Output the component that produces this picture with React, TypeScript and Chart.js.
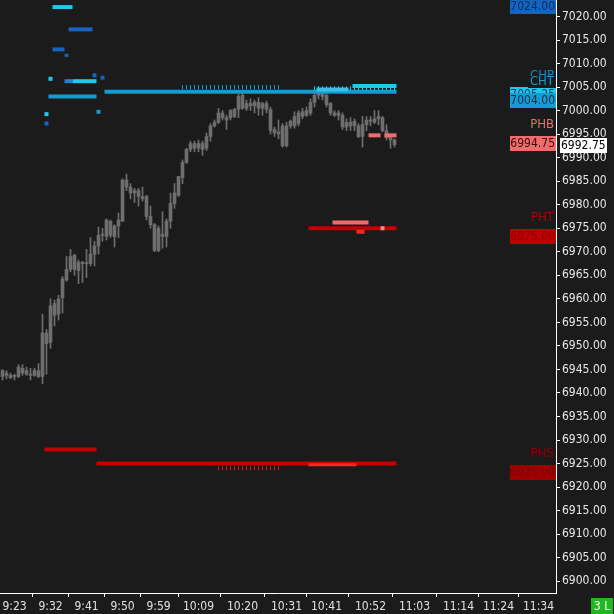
import React, { useEffect, useRef } from 'react';
import { Chart, registerables } from 'chart.js';

Chart.register(...registerables);

const FONT = "'DejaVu Sans Condensed', 'DejaVu Sans', sans-serif";
const BG = '#1b1b1b';

// 1-minute bars, first bar at 9:20 (minutes counted from 9:00)
const firstBarMinute = 20;
const opens = [
  6944.75, 6943.75, 6943.75, 6943.5, 6943.5, 6945.25, 6944.75, 6944, 6943.75, 6944.75,
  6943.5, 6952.75, 6950.75, 6959, 6956.75, 6960.25, 6964, 6966.25, 6969.25, 6966,
  6967.75, 6967.5, 6967.5, 6969.5, 6971.25, 6973.5, 6973.25, 6976.5, 6973.25, 6975.5,
  6976.5, 6985.25, 6983.75, 6982.5, 6983, 6981.75, 6981.75, 6977.5, 6975.75, 6970.25,
  6973.75, 6973.25, 6976.5, 6980.25, 6982, 6985.75, 6989, 6991.75, 6993, 6992,
  6993, 6992, 6994.5, 6996.75, 6997.5, 6999.5, 6998.5, 6998.5, 6998.75, 7000.25,
  7003.25, 7000.5, 7001.5, 7001, 7001.75, 7000.5, 7001.5, 7000.25, 6996, 6995.5,
  6996.75, 6992.5, 6996.75, 6996.75, 6997.25, 6998.75, 6999, 6999.5, 7001.75, 7003.25,
  7003.75, 7003.25, 7001.5, 6999.5, 6999, 6999, 6996.5, 6997.5, 6996.75, 6996.75,
  6994.5, 6997, 6998, 6997.5, 6998.25, 6998.5, 6995.75, 6994.25, 6993.75,
];
const highs = [
  6945, 6944.75, 6944.25, 6944, 6946, 6946, 6945.5, 6945.25, 6945.25, 6946.25,
  6956.75, 6953.5, 6960, 6959.75, 6960.75, 6964.75, 6969, 6970.5, 6969.5, 6968.25,
  6968, 6970.5, 6973, 6972.25, 6975.25, 6975, 6977, 6976.75, 6975.75, 6978.25,
  6985.5, 6986.5, 6984.5, 6983.5, 6983.5, 6983.75, 6982, 6979.75, 6976, 6975.5,
  6978.5, 6977, 6982.5, 6984.5, 6986, 6989.5, 6992, 6993.5, 6993.5, 6993.75,
  6993.5, 6995.25, 6997.25, 6998, 7000.5, 7000, 6999, 7000.25, 7000.5, 7003.5,
  7003.75, 7002.25, 7002.5, 7002.25, 7002.75, 7001.75, 7002, 7000.75, 6996.5, 6998,
  6997.25, 6997.5, 6998, 6999.75, 7000, 7000.5, 7000.75, 7002.5, 7004.25, 7005,
  7004.25, 7003.75, 7001.75, 7000, 7000, 6999.5, 6998.25, 6998.5, 6998.25, 6997.25,
  6998.75, 6998.75, 6998.75, 7000, 7000, 6998.75, 6997, 6994.75, 6994,
];
const lows = [
  6942.75, 6943, 6943, 6942.75, 6943.25, 6943.75, 6943.75, 6942.75, 6943.5, 6943.25,
  6942, 6944, 6949.5, 6954.25, 6955.5, 6957, 6963.75, 6965.75, 6965, 6963.25,
  6963.5, 6964.5, 6967, 6967, 6969.5, 6972.25, 6972.5, 6973, 6971, 6973,
  6976.5, 6983, 6981.25, 6980.5, 6979.75, 6980.75, 6976.75, 6975, 6970, 6970,
  6970.75, 6971, 6975, 6979.25, 6981.75, 6984.5, 6988.75, 6991.25, 6991.25, 6991.25,
  6990.5, 6991.5, 6993.5, 6996.5, 6997.25, 6998, 6996, 6998, 6998.5, 6998.5,
  7000.25, 7000, 7000, 6999.5, 6999, 6999, 6999.5, 6995, 6994.5, 6994,
  6992.25, 6992.25, 6996.25, 6996.25, 6996.75, 6998.25, 6998.75, 6999, 7000.75, 7002.5,
  7002.25, 7000.75, 6999, 6998.75, 6998, 6996, 6995.75, 6995.75, 6995.75, 6994.25,
  6992.25, 6995.75, 6996.75, 6997.25, 6997, 6995.5, 6993.75, 6992, 6992.25,
];
const closes = [
  6943.5, 6944.25, 6943.25, 6943.75, 6945.5, 6944.25, 6944, 6943.75, 6944.75, 6943.5,
  6952.75, 6950.5, 6958.5, 6956.5, 6960, 6964.25, 6966.25, 6969, 6966.25, 6967.75,
  6967.5, 6967.5, 6969.5, 6971.25, 6973.5, 6973.75, 6976.75, 6973.5, 6975.5, 6976.75,
  6985.25, 6983.75, 6982.5, 6983, 6981.75, 6981.25, 6977.5, 6975.75, 6970.25, 6975,
  6973.25, 6976.5, 6980.25, 6982.5, 6986, 6989, 6991.75, 6993, 6992, 6993,
  6991.75, 6994.5, 6996.75, 6997.5, 6999.5, 6998.5, 6998, 7000, 7000.25, 7003,
  7000.5, 7001.5, 7001, 7001.75, 7000.5, 7001.5, 7000.25, 6995.75, 6995.25, 6995,
  6992.5, 6996.75, 6997.75, 6998.75, 6999.5, 6999.75, 7000, 7001.75, 7003.25, 7003.75,
  7003, 7001.25, 6999.5, 6999, 6999.5, 6996.5, 6997.5, 6996.75, 6997.75, 6994.5,
  6997, 6998, 6997.75, 6998.25, 6998.75, 6995.75, 6994.25, 6993.75, 6992.75,
];

// Axis ticks
const xTickMinutes = [23, 32, 41, 50, 59, 69, 80, 91, 101, 112, 123, 134, 144, 154];
const yTickValues = [
  6900, 6905, 6910, 6915, 6920, 6925, 6930, 6935, 6940, 6945, 6950, 6955, 6960,
  6965, 6970, 6975, 6980, 6985, 6990, 6995, 7000, 7005, 7010, 7015, 7020,
];

// Horizontal level segments (price, start minute, end minute)
const levelValues = [
  7022, 7017.25, 7013, 7011.75, 7006.75, 7007.5, 7007, 7006.25, 7006.25, 7003,
  7004, 7004.5, 7005.25, 6999.25, 6997.25, 6999.75,
  6994.75, 6994.75, 6975, 6976.25, 6974.25, 6975,
  6928, 6925, 6924.75,
];
const levelFrom = [
  32.5, 36.5, 32.5, 35.5, 31.5, 42.5, 44.5, 35.5, 37.5, 31.5,
  45.5, 98.5, 107.5, 30.5, 30.5, 43.5,
  111.5, 115.5, 96.5, 102.5, 108.5, 114.5,
  30.5, 43.5, 96.5,
];
const levelTo = [
  37.5, 42.5, 35.5, 36.5, 32.5, 43.5, 45.5, 37.5, 43.5, 43.5,
  118.5, 106.5, 118.5, 31.5, 31.5, 44.5,
  114.5, 118.5, 118.5, 111.5, 110.5, 115.5,
  43.5, 118.5, 108.5,
];
// styles for the segments above
const CYAN = '#1ec8f0';
const DBLUE = '#1565c0';
const MBLUE = '#1e82dc';
const TEAL = '#149bcf';
const SALMON = '#f06c6c';
const DRED = '#c40000';
const BRED = '#ff2424';
const PINK = '#f08a8a';
const levelColors = [
  CYAN, DBLUE, DBLUE, DBLUE, CYAN, DBLUE, DBLUE, MBLUE, CYAN, TEAL,
  TEAL, '#3cbfe8', CYAN, CYAN, DBLUE, TEAL,
  SALMON, SALMON, DRED, SALMON, BRED, PINK,
  DRED, DRED, BRED,
];
const levelWidths = [
  4, 4, 4, 3, 4, 4, 4, 4, 4, 4,
  4, 4, 4, 4, 4, 4,
  4, 4, 4, 4, 4, 4,
  4, 4, 3,
];

// hatch (tick) marks along levels
const hatchValues = [7005, 7004.75, 6924];
const hatchFrom = [65, 98, 74];
const hatchTo = [89, 118, 89];
const hatchColors = [TEAL, CYAN, '#d02020'];

// right side price tags
const tagNames = ['', 'CHP', 'CHT', 'PHB', 'PHT', 'PHS'];
const tagValues = [7024, 7005.25, 7004, 6994.75, 6975, 6925];
const tagBoxColors = [DBLUE, CYAN, '#1a9ad2', SALMON, '#c00000', '#a00000'];
const tagTextColors = ['#0c2c58', '#0c3a50', '#0c3048', '#3a0808', '#860000', '#7a0000'];
const tagNameColors = ['', '#1a88c0', '#1a9ad2', SALMON, '#b00000', '#8a0000'];

const fmtTime = (m: number) => `${9 + Math.floor(m / 60)}:${String(m % 60).padStart(2, '0')}`;

const overlayPlugin = {
  id: 'overlay',
  beforeDraw(chart: any) {
    const ctx = chart.ctx;
    ctx.save();
    ctx.fillStyle = BG;
    ctx.fillRect(0, 0, chart.width, chart.height);
    ctx.restore();
  },
  afterDraw(chart: any) {
    const ctx = chart.ctx;
    const ys = chart.scales.y;
    const right = chart.chartArea.right;
    ctx.save();
    ctx.textBaseline = 'middle';
    for (let i = 0; i < tagValues.length; i++) {
      const py = Math.round(ys.getPixelForValue(tagValues[i]));
      if (tagNames[i]) {
        ctx.font = `13px ${FONT}`;
        const w = ctx.measureText(tagNames[i]).width;
        ctx.fillStyle = BG;
        ctx.fillRect(right - w - 4, py - 16, w + 4, 12);
        ctx.fillStyle = tagNameColors[i];
        ctx.textAlign = 'right';
        ctx.fillText(tagNames[i], right - 2, py - 10);
      }
      ctx.fillStyle = tagBoxColors[i];
      ctx.fillRect(right - 46, py + 1, 46, 15);
      ctx.fillStyle = tagTextColors[i];
      ctx.font = `12px ${FONT}`;
      ctx.textAlign = 'right';
      ctx.fillText(tagValues[i].toFixed(2), right - 1, py + 9);
    }
    // last price tag on axis
    const last = closes[closes.length - 1];
    const lp = Math.round(ys.getPixelForValue(last));
    ctx.fillStyle = '#ffffff';
    ctx.fillRect(right + 4, lp - 7, 47, 15);
    ctx.fillStyle = '#000000';
    ctx.font = `12px ${FONT}`;
    ctx.textAlign = 'left';
    ctx.fillText(last.toFixed(2), right + 5, lp + 1);
    // status box
    ctx.fillStyle = '#1fb81f';
    ctx.fillRect(591, 598, 22, 16);
    ctx.fillStyle = '#ffffff';
    ctx.textAlign = 'center';
    ctx.fillText('3 L', 602, 606.5);
    ctx.restore();
  },
};

export default function App() {
  const ref = useRef<HTMLCanvasElement | null>(null);

  useEffect(() => {
    const canvas = ref.current;
    if (!canvas) return;
    Chart.defaults.font.family = FONT;

    const times = opens.map((_, i) => firstBarMinute + i);
    const datasets: any[] = [];
    let order = 0;

    datasets.push({
      type: 'bar',
      label: 'wicks',
      data: times.map((t, i) => ({ x: t, y: [lows[i], highs[i]] })),
      backgroundColor: '#6e6e6e',
      borderWidth: 0,
      barThickness: 1,
      grouped: false,
      minBarLength: 1,
      order: order--,
    });
    datasets.push({
      type: 'bar',
      label: 'bodies',
      data: times.map((t, i) => ({ x: t, y: [Math.min(opens[i], closes[i]), Math.max(opens[i], closes[i])] })),
      backgroundColor: '#6e6e6e',
      borderWidth: 0,
      barThickness: 3,
      grouped: false,
      minBarLength: 1,
      order: order--,
    });

    for (let i = 0; i < levelValues.length; i++) {
      datasets.push({
        type: 'line',
        label: 'lvl' + i,
        data: [
          { x: levelFrom[i], y: levelValues[i] },
          { x: levelTo[i], y: levelValues[i] },
        ],
        borderColor: levelColors[i],
        borderWidth: levelWidths[i],
        borderCapStyle: 'butt',
        pointRadius: 0,
        fill: false,
        tension: 0,
        order: order--,
      });
    }

    for (let h = 0; h < hatchValues.length; h++) {
      const pts: any[] = [];
      for (let m = hatchFrom[h]; m <= hatchTo[h]; m++) pts.push({ x: m, y: hatchValues[h] });
      datasets.push({
        type: 'line',
        label: 'hatch' + h,
        data: pts,
        showLine: false,
        pointStyle: 'line',
        pointRotation: 90,
        pointRadius: 2,
        pointBorderWidth: 1,
        pointBorderColor: hatchColors[h],
        borderColor: hatchColors[h],
        order: order--,
      });
    }

    const chart = new Chart(canvas, {
      type: 'bar',
      data: { datasets },
      plugins: [overlayPlugin],
      options: {
        animation: false,
        responsive: false,
        maintainAspectRatio: false,
        events: [],
        layout: { padding: 0, autoPadding: false },
        plugins: { legend: { display: false }, tooltip: { enabled: false } },
        scales: {
          x: {
            type: 'linear',
            position: 'bottom',
            min: 19.375,
            max: 158.375,
            offset: false,
            grid: { drawOnChartArea: false, drawTicks: true, tickLength: 4, color: '#ffffff' },
            border: { display: true, color: '#ffffff', width: 1 },
            ticks: {
              color: '#e0e0e0',
              font: { size: 12, family: FONT },
              padding: 3,
              autoSkip: false,
              maxRotation: 0,
              minRotation: 0,
              callback: (v: any) => fmtTime(Number(v)),
            },
            afterBuildTicks: (s: any) => {
              s.ticks = xTickMinutes.map((v) => ({ value: v }));
            },
            afterFit: (s: any) => {
              s.height = 21;
              s.paddingLeft = 0;
              s.paddingRight = 0;
            },
          },
          y: {
            type: 'linear',
            position: 'right',
            min: 6897.5,
            max: 7023.5,
            grid: { drawOnChartArea: false, drawTicks: true, tickLength: 4, color: '#ffffff' },
            border: { display: true, color: '#ffffff', width: 1 },
            ticks: {
              color: '#e8e8e8',
              font: { size: 12, family: FONT },
              padding: 2,
              callback: (v: any) => Number(v).toFixed(2),
            },
            afterBuildTicks: (s: any) => {
              s.ticks = yTickValues.map((v) => ({ value: v }));
            },
            afterFit: (s: any) => {
              s.width = 58;
              s.paddingTop = 0;
              s.paddingBottom = 0;
            },
          },
        },
      } as any,
    } as any);

    return () => chart.destroy();
  }, []);

  return (
    <div style={{ position: 'fixed', left: 0, top: 0, width: 614, height: 614, background: BG }}>
      <canvas ref={ref} width={614} height={614} style={{ display: 'block', width: 614, height: 614 }} />
    </div>
  );
}
